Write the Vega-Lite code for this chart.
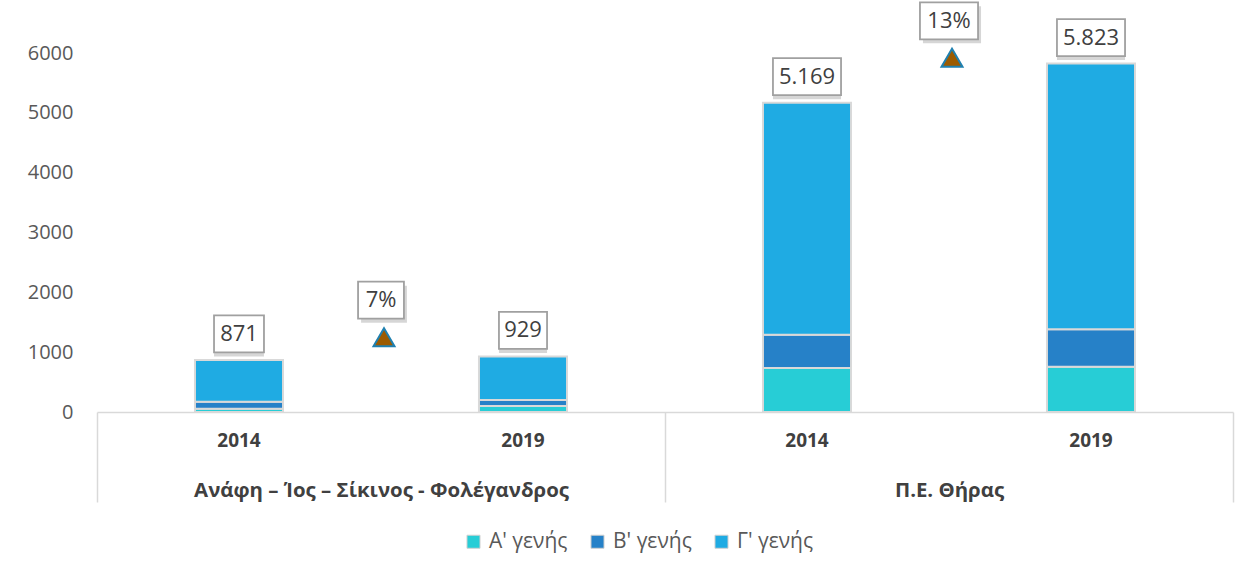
{
  "$schema": "https://vega.github.io/schema/vega-lite/v6.json",
  "width": 1136,
  "height": 359,
  "autosize": {"type": "none"},
  "padding": {"left": 97, "top": 53, "right": 26, "bottom": 162},
  "background": "white",
  "config": {
    "view": {"stroke": null},
    "font": "Open Sans",
    "locale": {"number": {"decimal": ",", "thousands": ".", "grouping": [3], "currency": ["", " €"]}},
    "axisX": {
      "domainColor": "#d9d9d9", "domainWidth": 1.5,
      "tickBand": "extent", "tickSize": 90, "tickColor": "#d9d9d9", "tickWidth": 1.5,
      "labelFontSize": 20.4, "labelFontWeight": "bold", "labelColor": "#404040",
      "labelBaseline": "middle", "labelPadding": -12, "labelAngle": 0, "labelLimit": 0
    },
    "axisY": {
      "domain": false, "ticks": false, "grid": false,
      "labelPadding": 24, "labelFontSize": 20, "labelColor": "#595959"
    }
  },
  "datasets": {
    "segments": [
      {"region": "Ανάφη – Ίος – Σίκινος - Φολέγανδρος", "year": "2014", "gen": "Α' γενής", "value": 55},
      {"region": "Ανάφη – Ίος – Σίκινος - Φολέγανδρος", "year": "2014", "gen": "Β' γενής", "value": 115},
      {"region": "Ανάφη – Ίος – Σίκινος - Φολέγανδρος", "year": "2014", "gen": "Γ' γενής", "value": 701},
      {"region": "Ανάφη – Ίος – Σίκινος - Φολέγανδρος", "year": "2019", "gen": "Α' γενής", "value": 100},
      {"region": "Ανάφη – Ίος – Σίκινος - Φολέγανδρος", "year": "2019", "gen": "Β' γενής", "value": 100},
      {"region": "Ανάφη – Ίος – Σίκινος - Φολέγανδρος", "year": "2019", "gen": "Γ' γενής", "value": 729},
      {"region": "Π.Ε. Θήρας", "year": "2014", "gen": "Α' γενής", "value": 735},
      {"region": "Π.Ε. Θήρας", "year": "2014", "gen": "Β' γενής", "value": 556},
      {"region": "Π.Ε. Θήρας", "year": "2014", "gen": "Γ' γενής", "value": 3878},
      {"region": "Π.Ε. Θήρας", "year": "2019", "gen": "Α' γενής", "value": 757},
      {"region": "Π.Ε. Θήρας", "year": "2019", "gen": "Β' γενής", "value": 624},
      {"region": "Π.Ε. Θήρας", "year": "2019", "gen": "Γ' γενής", "value": 4442}
    ],
    "totals": [
      {"region": "Ανάφη – Ίος – Σίκινος - Φολέγανδρος", "year": "2014", "total": 871},
      {"region": "Ανάφη – Ίος – Σίκινος - Φολέγανδρος", "year": "2019", "total": 929},
      {"region": "Π.Ε. Θήρας", "year": "2014", "total": 5169},
      {"region": "Π.Ε. Θήρας", "year": "2019", "total": 5823}
    ],
    "changes": [
      {"region": "Ανάφη – Ίος – Σίκινος - Φολέγανδρος", "change": "7%", "level": 1250},
      {"region": "Π.Ε. Θήρας", "change": "13%", "level": 5920}
    ]
  },
  "encoding": {
    "x": {
      "field": "region", "type": "nominal", "title": null, "sort": null,
      "scale": {"type": "band", "paddingInner": 0, "paddingOuter": 0,
        "domain": ["Ανάφη – Ίος – Σίκινος - Φολέγανδρος", "Π.Ε. Θήρας"]}
    }
  },
  "layer": [
    {
      "data": {"name": "segments"},
      "mark": {"type": "bar", "stroke": "#d9d9d9", "strokeWidth": 2},
      "encoding": {
        "xOffset": {"field": "year", "type": "nominal", "scale": {"domain": ["2014", "2019"], "paddingInner": 0.69, "paddingOuter": 0.345}},
        "y": {
          "field": "value", "type": "quantitative", "stack": "zero", "title": null,
          "scale": {"domain": [0, 6000], "nice": false},
          "axis": {"values": [0, 1000, 2000, 3000, 4000, 5000, 6000], "format": "d"}
        },
        "color": {
          "field": "gen", "type": "nominal",
          "scale": {"domain": ["Α' γενής", "Β' γενής", "Γ' γενής"], "range": ["#27cdd6", "#2681c8", "#1fabe3"]},
          "legend": {
            "title": null, "orient": "none", "legendX": 366, "legendY": 478, "direction": "horizontal",
            "symbolType": "square", "symbolSize": 170, "symbolStrokeColor": "#d0d0d0", "symbolStrokeWidth": 1,
            "labelFontSize": 21, "labelColor": "#595959", "columnPadding": 19, "labelOffset": 5
          }
        },
        "order": {"field": "gen", "sort": "ascending"}
      }
    },
    {
      "data": {"name": "totals"},
      "mark": {"type": "point", "filled": true, "color": "#000000", "opacity": 0.16, "strokeWidth": 0, "size": 1369, "yOffset": -22, "xOffset": 3},
      "encoding": {
        "xOffset": {"field": "year", "type": "nominal", "scale": {"domain": ["2014", "2019"], "paddingInner": 0.69, "paddingOuter": 0.345}},
        "y": {"field": "total", "type": "quantitative", "title": null},
        "shape": {"field": "total", "type": "nominal", "legend": null,
          "scale": {"domain": [871, 929, 5169, 5823], "range": ["M-1.35,-1H1.35V1H-1.35Z", "M-1.3,-1H1.3V1H-1.3Z", "M-1.84,-1H1.84V1H-1.84Z", "M-1.84,-1H1.84V1H-1.84Z"]}}
      }
    },
    {
      "data": {"name": "totals"},
      "mark": {"type": "point", "filled": true, "fill": "white", "stroke": "#a0a0a0", "strokeWidth": 1.8, "opacity": 1, "size": 1369, "yOffset": -26},
      "encoding": {
        "xOffset": {"field": "year", "type": "nominal", "scale": {"domain": ["2014", "2019"], "paddingInner": 0.69, "paddingOuter": 0.345}},
        "y": {"field": "total", "type": "quantitative", "title": null},
        "shape": {"field": "total", "type": "nominal", "legend": null,
          "scale": {"domain": [871, 929, 5169, 5823], "range": ["M-1.35,-1H1.35V1H-1.35Z", "M-1.3,-1H1.3V1H-1.3Z", "M-1.84,-1H1.84V1H-1.84Z", "M-1.84,-1H1.84V1H-1.84Z"]}}
      }
    },
    {
      "data": {"name": "totals"},
      "mark": {"type": "text", "fontSize": 22, "color": "#404040", "baseline": "middle", "align": "center", "yOffset": -26},
      "encoding": {
        "xOffset": {"field": "year", "type": "nominal", "scale": {"domain": ["2014", "2019"], "paddingInner": 0.69, "paddingOuter": 0.345}},
        "y": {"field": "total", "type": "quantitative", "title": null},
        "text": {"field": "total", "type": "quantitative", "format": ",d"}
      }
    },
    {
      "data": {"name": "totals"},
      "mark": {"type": "text", "fontSize": 19, "fontWeight": "bold", "color": "#404040", "baseline": "middle", "align": "center", "yOffset": 29},
      "encoding": {
        "xOffset": {"field": "year", "type": "nominal", "scale": {"domain": ["2014", "2019"], "paddingInner": 0.69, "paddingOuter": 0.345}},
        "y": {"datum": 0},
        "text": {"field": "year", "type": "nominal"}
      }
    },
    {
      "data": {"name": "changes"},
      "mark": {"type": "point", "filled": true, "color": "#000000", "opacity": 0.16, "strokeWidth": 0, "size": 1369, "yOffset": -33, "xOffset": 3},
      "encoding": {
        "y": {"field": "level", "type": "quantitative", "title": null},
        "shape": {"field": "change", "type": "nominal", "legend": null,
          "scale": {"domain": ["7%", "13%"], "range": ["M-1.24,-1H1.24V1H-1.24Z", "M-1.57,-1H1.57V1H-1.57Z"]}}
      }
    },
    {
      "data": {"name": "changes"},
      "mark": {"type": "point", "filled": true, "fill": "white", "stroke": "#a0a0a0", "strokeWidth": 1.8, "opacity": 1, "size": 1369, "yOffset": -37},
      "encoding": {
        "y": {"field": "level", "type": "quantitative", "title": null},
        "shape": {"field": "change", "type": "nominal", "legend": null,
          "scale": {"domain": ["7%", "13%"], "range": ["M-1.24,-1H1.24V1H-1.24Z", "M-1.57,-1H1.57V1H-1.57Z"]}}
      }
    },
    {
      "data": {"name": "changes"},
      "mark": {"type": "text", "fontSize": 22, "color": "#404040", "baseline": "middle", "align": "center", "yOffset": -37},
      "encoding": {
        "y": {"field": "level", "type": "quantitative", "title": null},
        "text": {"field": "change", "type": "nominal"}
      }
    },
    {
      "data": {"name": "changes"},
      "mark": {"type": "point", "shape": "triangle-up", "filled": true, "fill": "#9c5b00", "stroke": "#1f80b0", "strokeWidth": 2, "opacity": 1, "size": 440, "xOffset": 3},
      "encoding": {
        "y": {"field": "level", "type": "quantitative", "title": null}
      }
    }
  ],
  "resolve": {"scale": {"shape": "independent"}}
}
